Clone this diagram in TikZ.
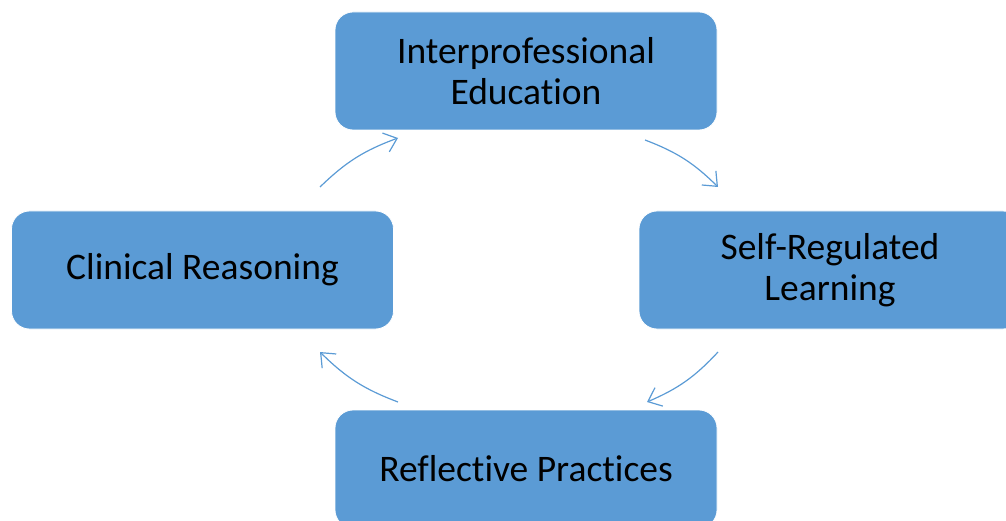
\documentclass[tikz,border=0pt]{standalone}
\usepackage{fontspec}
\setmainfont{Carlito}[Ligatures={NoCommon}]
\usetikzlibrary{arrows.meta}
\definecolor{boxblue}{HTML}{5B9BD5}
\tikzset{
  box/.style={fill=boxblue, draw=white, line width=0.8pt, rounded corners=18pt,
    minimum width=382pt, minimum height=118pt, inner sep=0pt,
    align=center, font=\fontsize{37.5}{41}\selectfont, text=black},
  cyc/.style={draw=boxblue, line width=1.2pt,
    -{Straight Barb[length=12pt,width=20pt,line width=1.2pt]}}
}
\begin{document}
\begin{tikzpicture}[x=1pt,y=-1pt]
\useasboundingbox (0,0) rectangle (1006,521);
\begin{scope}
\clip (0,0) rectangle (1006,521);
\node[box] (ipe) at (526,71) {Interprofessional\\Education};
\node[box] (srl) at (830,270) {Self-Regulated\\Learning};
\node[box] (rp) at (526,469) {Reflective Practices};
\node[box] (cr) at (202.5,270) {Clinical Reasoning};
\end{scope}
\coordinate (a1s) at (320,187);
\coordinate (a1e) at (398,138);
\coordinate (a2s) at (645,140);
\coordinate (a2e) at (718,187);
\coordinate (a3s) at (718,352);
\coordinate (a3e) at (647,402);
\coordinate (a4s) at (398,402);
\coordinate (a4e) at (320,352);
\draw[cyc] (a1s) to[bend left=12] (a1e);
\draw[cyc] (a2s) to[bend left=12] (a2e);
\draw[cyc] (a3s) to[bend left=12] (a3e);
\draw[cyc] (a4s) to[bend left=12] (a4e);
\end{tikzpicture}
\end{document}
